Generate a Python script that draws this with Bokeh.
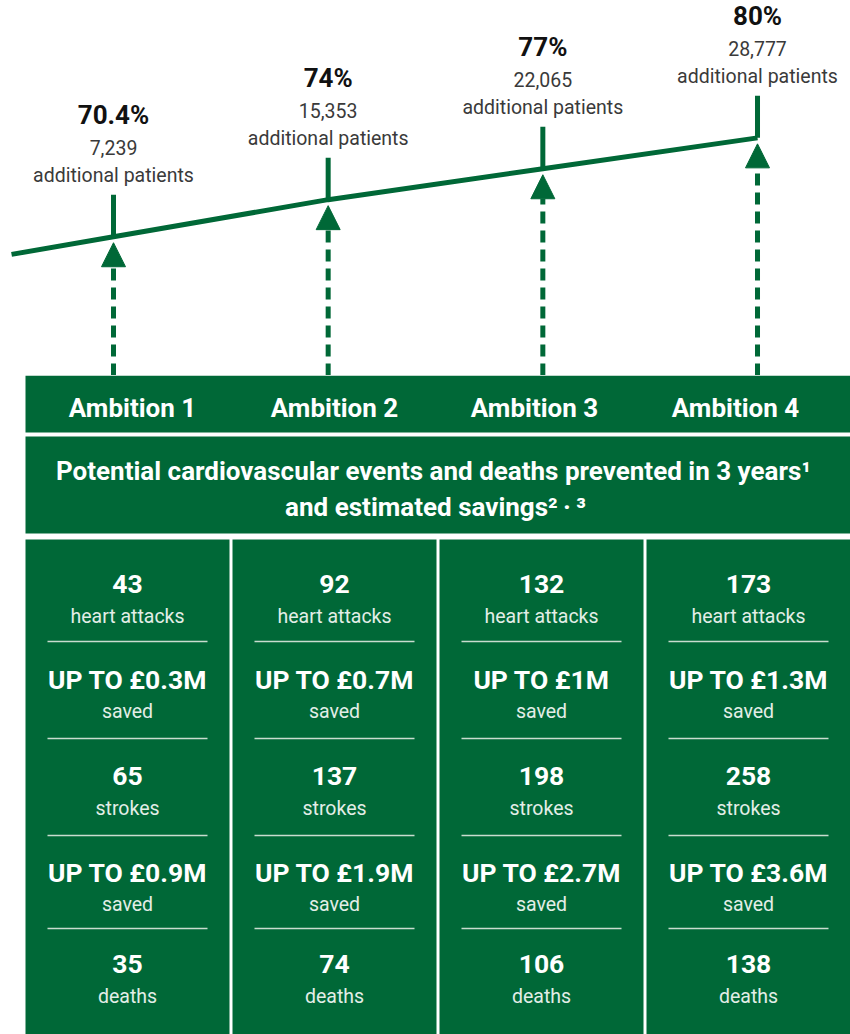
from bokeh.plotting import figure
from bokeh.models import ColumnDataSource, Range1d, Arrow, NormalHead
from bokeh.layouts import column
from bokeh.core.properties import value
from bokeh.embed import file_html
from bokeh.resources import INLINE

# ---------------- data ----------------
ambitions = ["Ambition 1", "Ambition 2", "Ambition 3", "Ambition 4"]
uptake_pct = [70.4, 74, 77, 80]
pct_labels = ["70.4%", "74%", "77%", "80%"]
additional_patients = [7239, 15353, 22065, 28777]
heart_attacks = [43, 92, 132, 173]
heart_attack_savings_m = [0.3, 0.7, 1, 1.3]
strokes = [65, 137, 198, 258]
stroke_savings_m = [0.9, 1.9, 2.7, 3.6]
deaths = [35, 74, 106, 138]
row_units = ["heart attacks", "saved", "strokes", "saved", "deaths"]
subtitle_lines = [
    "Potential cardiovascular events and deaths prevented in 3 years\u00b9",
    "and estimated savings\u00b2\u2009\u00b7\u2009\u00b3",
]

# ---------------- style / layout ----------------
GREEN = "#006837"
SEP = "#c9dccf"
FONT = value("Roboto")
W = 850
TOP_H = 375
BOT_H = 659
PX = 10.3            # pixels per percentage point on the uptake scale
PCT_LO, PCT_HI = 56.928, 93.335   # uptake scale at the bottom / top of the upper panel
MID = 0.34           # baseline -> "middle" shift, in em
idx = list(range(len(ambitions)))


def mid(baseline_px, size):
    return baseline_px - MID * size


# ---------------- top: uptake line ----------------
top = figure(width=W, height=TOP_H, x_range=Range1d(-0.5264, 3.4332),
             y_range=Range1d(PCT_LO, PCT_HI), output_backend="svg",
             toolbar_location=None, min_border=0,
             x_axis_location=None, y_axis_location=None,
             background_fill_color="white", border_fill_color="white")
top.grid.visible = False
top.outline_line_color = None

lead = -0.475
start_pct = uptake_pct[0] + lead * (uptake_pct[1] - uptake_pct[0])
top.line([lead] + idx, [start_pct] + uptake_pct, line_width=5, line_color=GREEN,
         line_join="miter")
top.segment(x0=idx, y0=uptake_pct, x1=idx, y1=[p + 42 / PX for p in uptake_pct],
            line_width=5, line_color=GREEN)

arrow_src = ColumnDataSource(dict(x=idx, y0=[PCT_LO] * len(idx),
                                  y1=[p - 6 / PX for p in uptake_pct]))
top.add_layout(Arrow(end=NormalHead(size=24, fill_color=GREEN, line_color=GREEN, line_width=1),
                     x_start="x", y_start="y0", x_end="x", y_end="y1", source=arrow_src,
                     line_color=GREEN, line_width=5, line_dash="12 7"))

top.text(x=idx, y=[p - mid(-113, 26) / PX for p in uptake_pct], text=pct_labels,
         text_font=FONT, text_font_style="bold", text_font_size="26px",
         text_color="#111111", text_align="center", text_baseline="middle")
top.text(x=idx, y=[p - mid(-83, 19.5) / PX for p in uptake_pct],
         text=[f"{n:,}" for n in additional_patients],
         text_font=FONT, text_font_size="19.5px",
         text_color="#3a3a3a", text_align="center", text_baseline="middle")
top.text(x=idx, y=[p - mid(-55, 19.5) / PX for p in uptake_pct],
         text=["additional patients"] * len(idx),
         text_font=FONT, text_font_size="19.5px",
         text_color="#3a3a3a", text_align="center", text_baseline="middle")

# ---------------- bottom: table ----------------
bot = figure(width=W, height=BOT_H, x_range=Range1d(0, 850), y_range=Range1d(1034, 375),
             output_backend="svg", toolbar_location=None, min_border=0,
             x_axis_location=None, y_axis_location=None,
             background_fill_color="white", border_fill_color="white")
bot.grid.visible = False
bot.outline_line_color = None

bot.quad(left=[25, 25], right=[860, 860], top=[375, 436], bottom=[432, 533],
         fill_color=GREEN, line_color=None)
col_left = [25, 232, 439, 646]
col_w = 204
col_center = [l + col_w / 2 for l in col_left]
bot.quad(left=col_left, right=[l + col_w for l in col_left], top=[539] * 4,
         bottom=[1040] * 4, fill_color=GREEN, line_color=None)

bot.text(x=[132, 334, 534, 735], y=[mid(416, 26)] * 4, text=ambitions,
         text_font=FONT, text_font_style="bold", text_font_size="26px",
         text_color="white", text_align="center", text_baseline="middle")
bot.text(x=[433, 435], y=[mid(479, 26), mid(515, 26)], text=subtitle_lines,
         text_font=FONT, text_font_style="bold", text_font_size="26px",
         text_color="white", text_align="center", text_baseline="middle")

bold_rows = [593, 688, 785, 881, 973]
sep_rows = [641, 738, 835, 928]
bx, by, bt, lx, ly, lt = [], [], [], [], [], []
sx0, sx1, sy = [], [], []
for i in idx:
    vals = [str(heart_attacks[i]), f"UP TO \u00a3{heart_attack_savings_m[i]:g}M",
            str(strokes[i]), f"UP TO \u00a3{stroke_savings_m[i]:g}M", str(deaths[i])]
    for r, (v, u) in enumerate(zip(vals, row_units)):
        bx.append(col_center[i]); by.append(mid(bold_rows[r], 26.5)); bt.append(v)
        lx.append(col_center[i]); ly.append(mid(bold_rows[r] + 29.5, 19.5)); lt.append(u)
    for s in sep_rows:
        sx0.append(col_center[i] - 80); sx1.append(col_center[i] + 80); sy.append(s)

bot.segment(x0=sx0, y0=sy, x1=sx1, y1=sy, line_color=SEP, line_width=1.5)
bot.text(x=bx, y=by, text=bt, text_font=FONT, text_font_style="bold",
         text_font_size="26.5px", text_color="white", text_align="center",
         text_baseline="middle")
bot.text(x=lx, y=ly, text=lt, text_font=FONT, text_font_size="19.5px",
         text_color="#e3eee7", text_align="center", text_baseline="middle")

layout = column(top, bot, spacing=0)
open("out.html", "w").write(file_html(layout, INLINE))
